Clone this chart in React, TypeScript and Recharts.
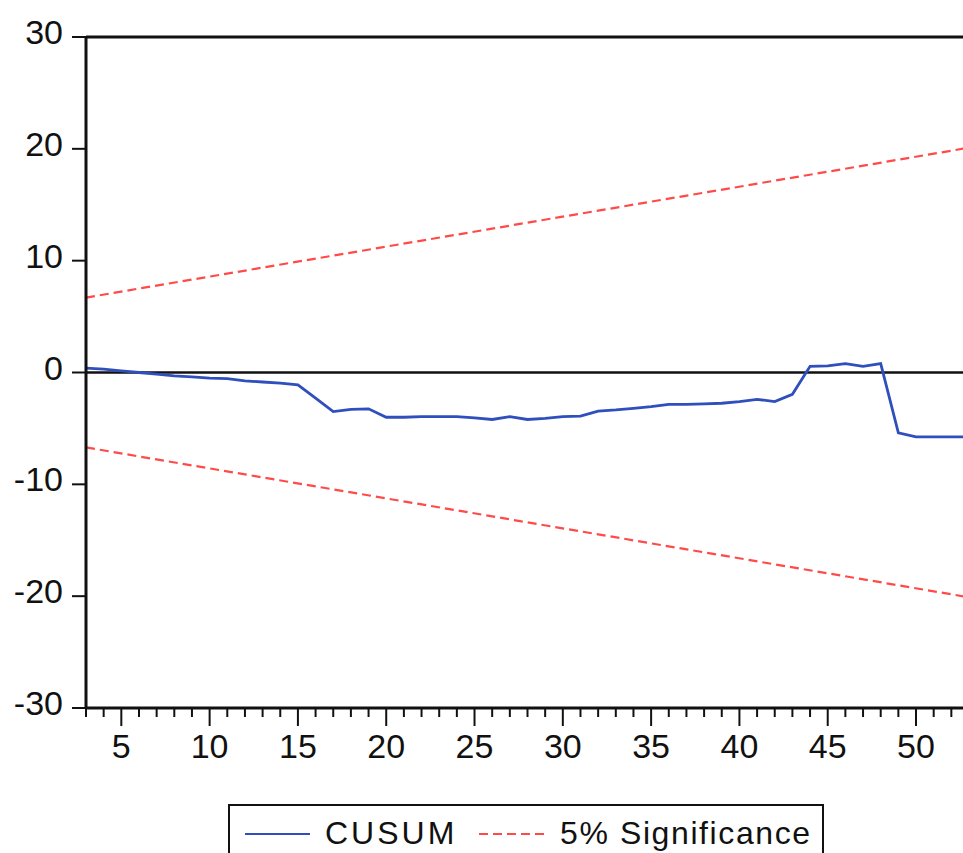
import { LineChart, Line, XAxis, YAxis, ReferenceLine } from "recharts";

// CUSUM stability test, observations 3..53
const OBS = [
  3, 4, 5, 6, 7, 8, 9, 10, 11, 12, 13, 14, 15, 16, 17, 18, 19, 20, 21, 22, 23, 24, 25, 26, 27,
  28, 29, 30, 31, 32, 33, 34, 35, 36, 37, 38, 39, 40, 41, 42, 43, 44, 45, 46, 47, 48, 49, 50,
  51, 52, 53,
];
const CUSUM = [
  0.4, 0.3, 0.15, 0.0, -0.15, -0.3, -0.4, -0.5, -0.55, -0.75, -0.85, -0.95, -1.1, -2.3, -3.5,
  -3.3, -3.25, -4.0, -4.0, -3.95, -3.95, -3.95, -4.05, -4.2, -3.95, -4.2, -4.1, -3.95, -3.9,
  -3.45, -3.35, -3.2, -3.05, -2.85, -2.85, -2.8, -2.75, -2.6, -2.4, -2.6, -1.95, 0.55, 0.6, 0.8,
  0.55, 0.8, -5.4, -5.75, -5.75, -5.75, -5.75,
];
// 5% significance bounds are straight lines: endpoints only
const BOUND_X = [3, 53];
const UPPER = [6.7, 20.1];
const LOWER = [-6.7, -20.1];

const Y_TICKS = [-30, -20, -10, 0, 10, 20, 30];
const X_TICKS = OBS; // minor tick every observation, label every 5

const BLUE = "#2f4fbd";
const RED = "#ff4a4a";
const FONT = '"Liberation Sans", Arial, sans-serif';

const cusumData = OBS.map((x, i) => ({ x, v: CUSUM[i] }));
const upperData = BOUND_X.map((x, i) => ({ x, v: UPPER[i] }));
const lowerData = BOUND_X.map((x, i) => ({ x, v: LOWER[i] }));

function XTick({ x, y, payload }: any) {
  const major = payload.value % 5 === 0;
  return (
    <g>
      <line x1={x} x2={x} y1={y} y2={y + (major ? 18 : 9)} stroke="#111" strokeWidth={2} />
      {major && (
        <text x={x} y={y + 50} textAnchor="middle" fontSize={34} fill="#111" fontFamily={FONT}>
          {payload.value}
        </text>
      )}
    </g>
  );
}

function YTick({ x, y, payload }: any) {
  return (
    <text x={x} y={y - 5} textAnchor="end" dominantBaseline="central" fontSize={34} fill="#111" fontFamily={FONT}>
      {payload.value}
    </text>
  );
}

export default function App() {
  return (
    <div style={{ position: "fixed", left: 0, top: 0, width: 963, height: 853, overflow: "hidden", background: "#fff" }}>
      <LineChart width={975} height={853} margin={{ top: 37, right: 6, bottom: 0, left: 0 }}>
        <XAxis
          dataKey="x"
          type="number"
          domain={[3, 53]}
          ticks={X_TICKS}
          interval={0}
          height={145}
          tickSize={0}
          tickMargin={0}
          tickLine={false}
          axisLine={{ stroke: "#111", strokeWidth: 3 }}
          tick={<XTick />}
        />
        <YAxis
          type="number"
          domain={[-30, 30]}
          ticks={Y_TICKS}
          width={86}
          tickSize={14}
          tickMargin={9}
          tickLine={{ stroke: "#111", strokeWidth: 2 }}
          axisLine={{ stroke: "#111", strokeWidth: 3 }}
          tick={<YTick />}
        />
        <ReferenceLine y={30} stroke="#111" strokeWidth={3} />
        <ReferenceLine x={53} stroke="#111" strokeWidth={3} />
        <ReferenceLine y={0} stroke="#111" strokeWidth={2.5} />
        <Line data={upperData} dataKey="v" stroke={RED} strokeWidth={2.2} strokeDasharray="9 5" dot={false} isAnimationActive={false} />
        <Line data={lowerData} dataKey="v" stroke={RED} strokeWidth={2.2} strokeDasharray="9 5" dot={false} isAnimationActive={false} />
        <Line data={cusumData} dataKey="v" stroke={BLUE} strokeWidth={2.8} dot={false} isAnimationActive={false} />
      </LineChart>
      <div
        style={{
          position: "absolute",
          left: 228,
          top: 804,
          width: 592,
          height: 70,
          border: "2px solid #111",
          fontFamily: FONT,
          color: "#111",
        }}
      >
        <svg width={592} height={70} style={{ position: "absolute", left: 0, top: 0 }}>
          <line x1={15} x2={80} y1={28} y2={28} stroke={BLUE} strokeWidth={2} />
          <line x1={249} x2={314} y1={28} y2={28} stroke={RED} strokeWidth={2} strokeDasharray="9 5" />
          <text x={95} y={38} fontSize={32} letterSpacing={3} fill="#111" fontFamily={FONT}>CUSUM</text>
          <text x={330} y={38} fontSize={32} letterSpacing={1.6} fill="#111" fontFamily={FONT}>5% Significance</text>
        </svg>
      </div>
    </div>
  );
}
